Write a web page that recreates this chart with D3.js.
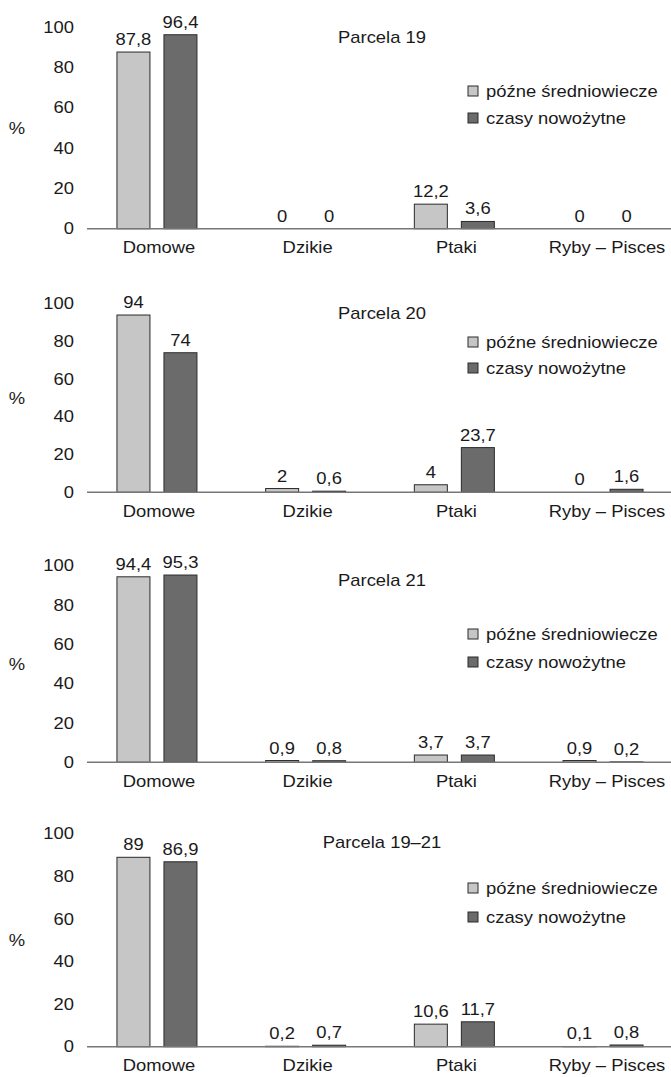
<!DOCTYPE html>
<html>
<head>
<meta charset="utf-8">
<script src="https://cdn.jsdelivr.net/npm/d3@7"></script>
<style>
  html, body { margin: 0; padding: 0; background: #fff; }
  svg { display: block; }
  text { font-family: "Liberation Sans", Arial, sans-serif; font-size: 16px; fill: #1a1a1a; }
</style>
</head>
<body>
<div id="chart"></div>
<script>
// ---- data ----
const categories = ["Domowe", "Dzikie", "Ptaki", "Ryby – Pisces"];
const seriesNames = ["późne średniowiecze", "czasy nowożytne"];
const panelTitles = ["Parcela 19", "Parcela 20", "Parcela 21", "Parcela 19–21"];
const lateMedieval = [
  [87.8, 0, 12.2, 0],
  [94, 2, 4, 0],
  [94.4, 0.9, 3.7, 0.9],
  [89, 0.2, 10.6, 0.1]
];
const modern = [
  [96.4, 0, 3.6, 0],
  [74, 0.6, 23.7, 1.6],
  [95.3, 0.8, 3.7, 0.2],
  [86.9, 0.7, 11.7, 0.8]
];
const yTicks = [0, 20, 40, 60, 80, 100];
const yLabel = "%";

// ---- layout ----
const W = 671, H = 1077;
const panelBase = [228.7, 492.3, 762.3, 1046.7];
const panelTop = [27.5, 303.7, 565.8, 833.9];
const titleBaseline = [43, 319, 586, 848];
const legendRows = [[91, 118], [342, 368], [634, 662], [888, 917]];
const colors = ["#c6c6c6", "#6b6b6b"];
const sx = 1.15;

const svg = d3.select("#chart").append("svg").attr("width", W).attr("height", H);

const x = d3.scaleBand().domain(categories).range([82.6, 677.4]).padding(0);
const bw = x.bandwidth();
const xs = d3.scaleBand().domain(seriesNames)
  .range([bw / 2 - 40, bw / 2 + 40]).paddingInner(0.298).paddingOuter(0);

function txt(g, s, tx, ty, anchor) {
  return g.append("text")
    .attr("transform", `translate(${tx},${ty}) scale(${sx},1)`)
    .attr("text-anchor", anchor || "middle")
    .text(s);
}
const fmt = v => String(v).replace(".", ",");

panelTitles.forEach((title, p) => {
  const g = svg.append("g");
  const y = d3.scaleLinear().domain([0, 100]).range([panelBase[p], panelTop[p]]);
  const series = [lateMedieval[p], modern[p]];

  // y tick labels
  yTicks.forEach(t => txt(g, String(t), 74, y(t) + 5.5, "end"));
  // % label
  txt(g, yLabel, 17, (y(0) + y(100)) / 2 + 5.5, "middle");

  // bars
  series.forEach((vals, si) => {
    vals.forEach((v, ci) => {
      const bx = x(categories[ci]) + xs(seriesNames[si]);
      if (v > 0) {
        g.append("rect")
          .attr("x", bx).attr("y", y(v))
          .attr("width", xs.bandwidth())
          .attr("height", y(0) - y(v))
          .attr("fill", colors[si])
          .attr("stroke", "#2a2a2a")
          .attr("stroke-width", 1);
      }
      txt(g, fmt(v), bx + xs.bandwidth() / 2, y(v) - 7, "middle");
    });
  });

  // baseline axis
  g.append("line")
    .attr("x1", 87).attr("x2", W)
    .attr("y1", y(0)).attr("y2", y(0))
    .attr("stroke", "#777").attr("stroke-width", 1.4);

  // category labels
  categories.forEach((c, ci) => {
    const cx = x(c) + bw / 2 + (ci === 3 ? 4 : 2);
    txt(g, c, cx, y(0) + 24.5, "middle");
  });

  // title
  txt(g, title, 382, titleBaseline[p], "middle");

  // legend
  seriesNames.forEach((s, si) => {
    const cy = legendRows[p][si];
    g.append("rect")
      .attr("x", 468).attr("y", cy - 5)
      .attr("width", 10).attr("height", 10)
      .attr("fill", colors[si]).attr("stroke", "#2a2a2a").attr("stroke-width", 1);
    txt(g, s, 486, cy + 5.5, "start");
  });
});
</script>
</body>
</html>
